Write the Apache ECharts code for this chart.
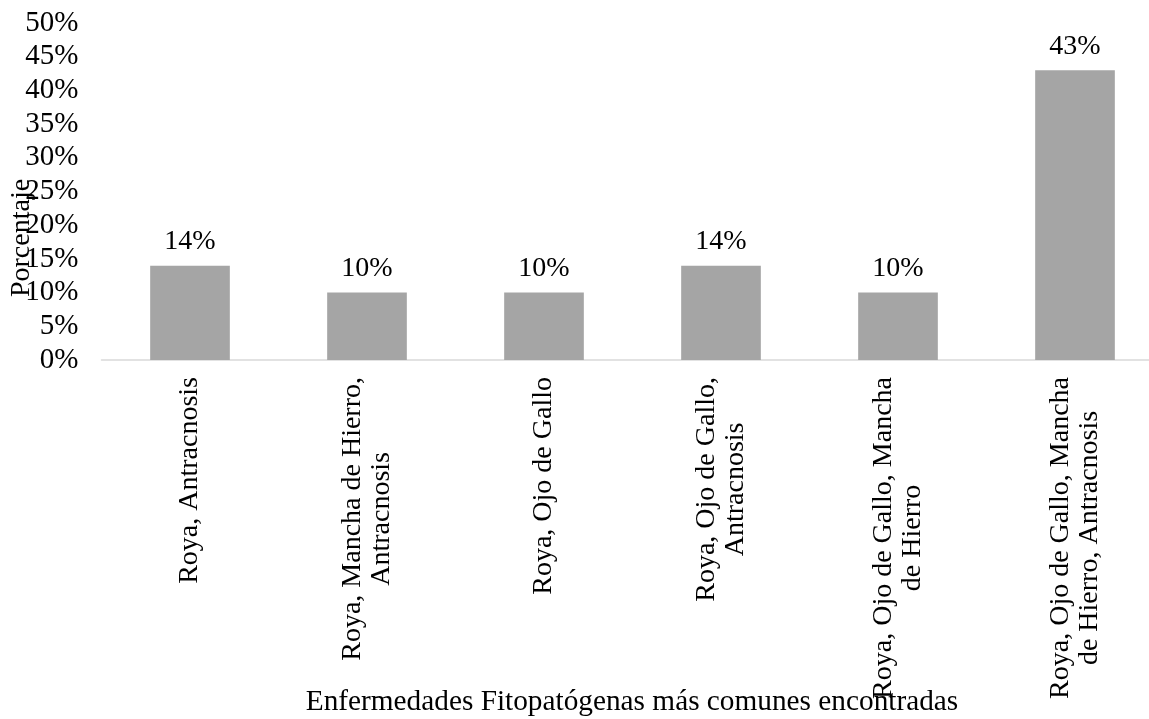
<!DOCTYPE html>
<html>
<head>
<meta charset="utf-8">
<script src="https://cdn.jsdelivr.net/npm/echarts@6/dist/echarts.min.js"></script>
<style>
html,body{margin:0;padding:0;background:#fff;}
#chart{width:1149px;height:719px;}
</style>
</head>
<body>
<div id="chart"></div>
<script>
const categories = [
  'Roya, Antracnosis',
  'Roya, Mancha de Hierro,\nAntracnosis',
  'Roya, Ojo de Gallo',
  'Roya, Ojo de Gallo,\nAntracnosis',
  'Roya, Ojo de Gallo, Mancha\nde Hierro',
  'Roya, Ojo de Gallo, Mancha\nde Hierro, Antracnosis'
];
const values = [14, 10, 10, 14, 10, 43];
const yTicks = { min: 0, max: 50, interval: 5 };
const xAxisTitle = 'Enfermedades Fitopatógenas más comunes encontradas';
const yAxisTitle = 'Porcentaje';

const FONT = "'Liberation Serif', 'Times New Roman', serif";
const chart = echarts.init(document.getElementById('chart'));
chart.setOption({
  animation: false,
  backgroundColor: '#fff',
  grid: { left: 101.5, width: 1062, top: 23, bottom: 359, containLabel: false, outerBoundsMode: 'none' },
  xAxis: {
    type: 'category',
    data: categories,
    axisLine: { show: true, lineStyle: { color: '#D9D9D9', width: 1.5 } },
    axisTick: { show: false },
    axisLabel: {
      interval: 0,
      rotate: 90,
      margin: 17,
      color: '#000',
      fontFamily: FONT,
      fontSize: 28,
      lineHeight: 29,
      formatter: function (v) {
        return v.split('\n').map(function (s) { return '{c|' + s + '}'; }).join('\n');
      },
      rich: {
        c: { align: 'center', fontFamily: FONT, fontSize: 28, lineHeight: 29, color: '#000' }
      }
    }
  },
  yAxis: {
    type: 'value',
    min: yTicks.min,
    max: yTicks.max,
    interval: yTicks.interval,
    axisLine: { show: false },
    axisTick: { show: false },
    splitLine: { show: false },
    axisLabel: {
      margin: 23,
      color: '#000',
      fontFamily: FONT,
      fontSize: 29,
      formatter: '{value}%'
    }
  },
  series: [{
    type: 'bar',
    data: values,
    barCategoryGap: '55%',
    itemStyle: { color: '#A5A5A5' },
    label: {
      show: true,
      position: 'top',
      distance: 10,
      color: '#000',
      fontFamily: FONT,
      fontSize: 28,
      formatter: function (p) { return p.value + '%'; }
    }
  }],
  graphic: [
    {
      type: 'text',
      x: 22, y: 238,
      rotation: Math.PI / 2,
      style: {
        text: yAxisTitle,
        fontFamily: FONT,
        fontSize: 28,
        fill: '#000',
        align: 'center',
        verticalAlign: 'middle'
      }
    },
    {
      type: 'text',
      x: 632, y: 702,
      style: {
        text: xAxisTitle,
        fontFamily: FONT,
        fontSize: 29.3,
        fill: '#000',
        align: 'center',
        verticalAlign: 'middle'
      }
    }
  ]
});
</script>
</body>
</html>
